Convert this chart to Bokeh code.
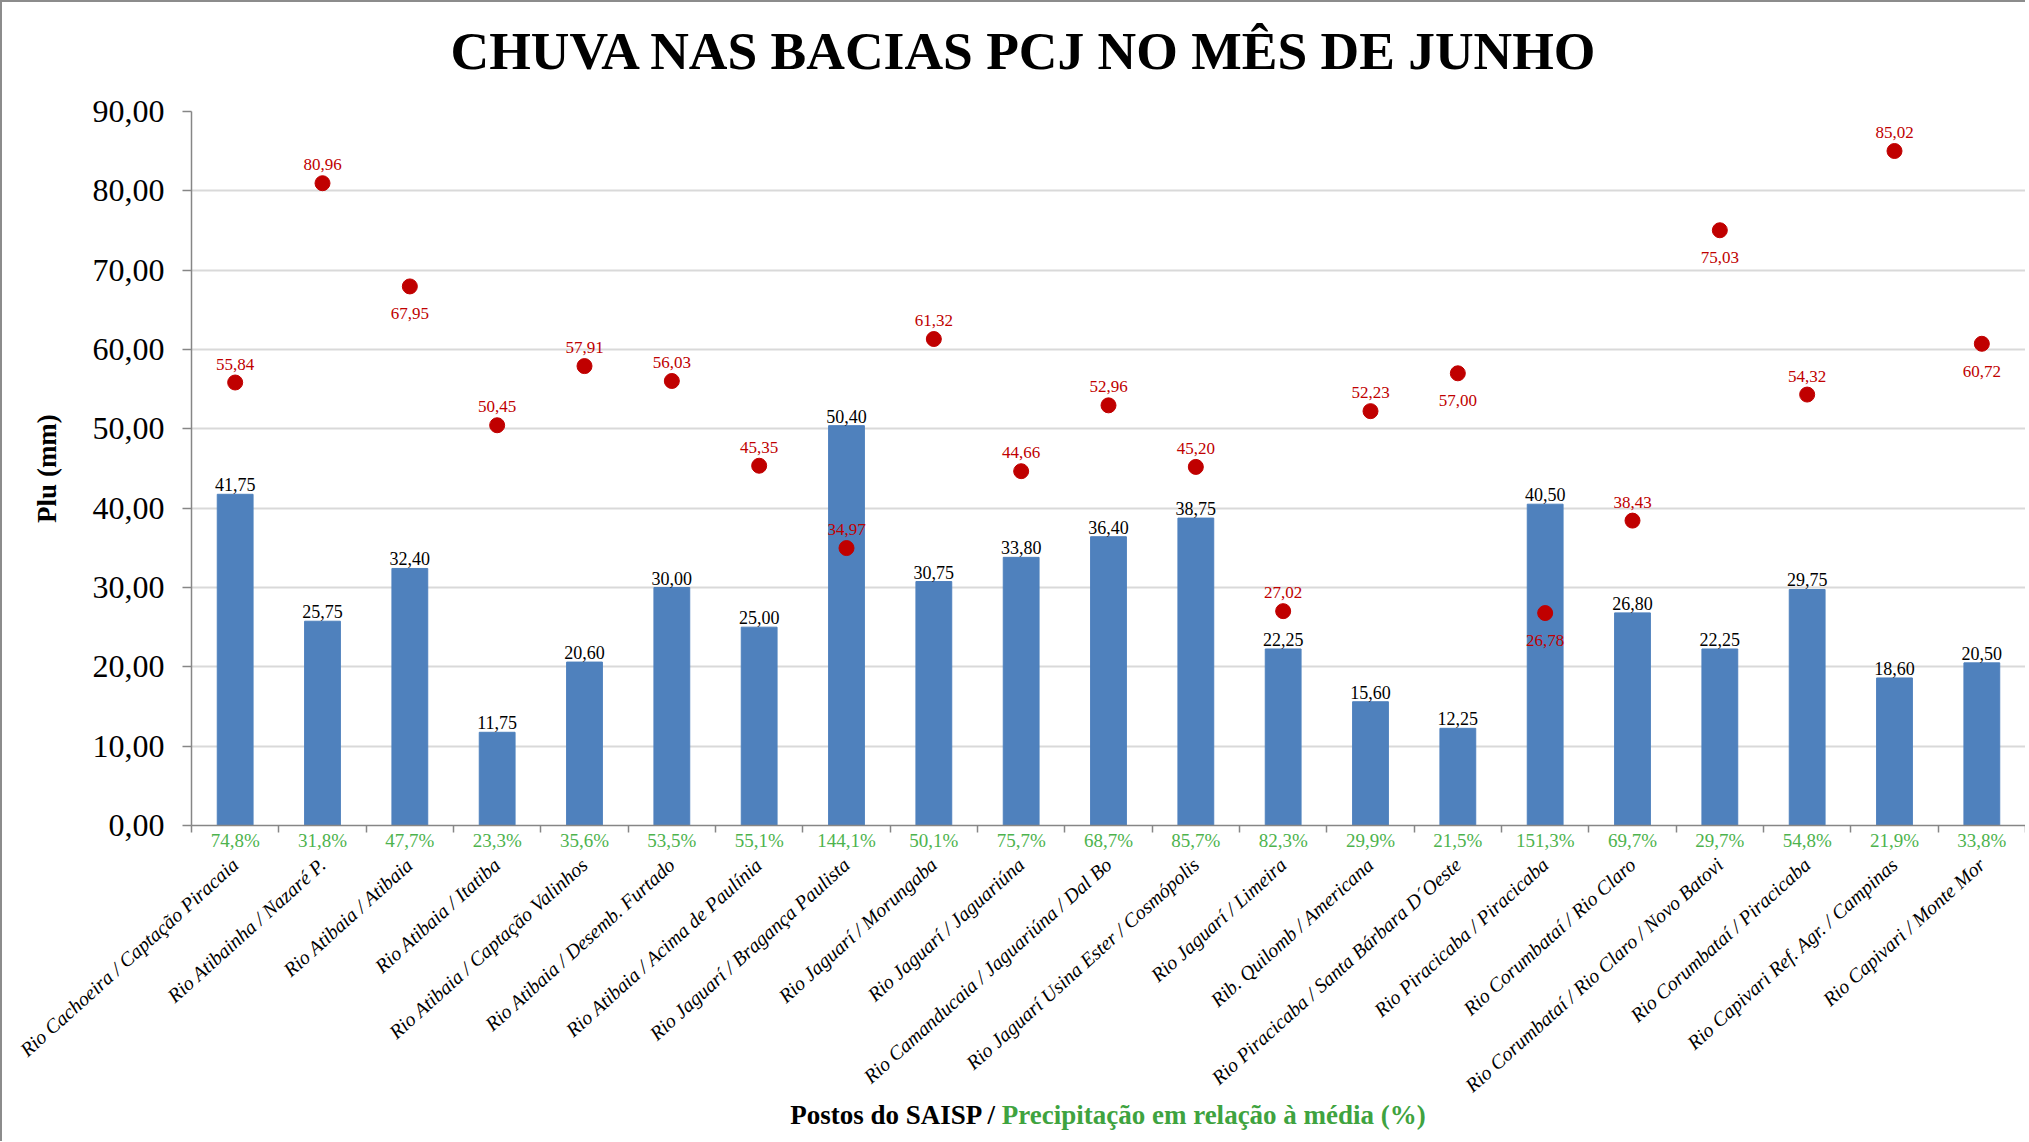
import math
from bokeh.plotting import figure
from bokeh.layouts import column
from bokeh.models import ColumnDataSource, LabelSet, Range1d, FixedTicker, LinearAxis, Div
from bokeh.embed import file_html
from bokeh.resources import INLINE

# ---------------- data ----------------
stations = [
    "Rio Cachoeira / Captação Piracaia",
    "Rio Atibainha / Nazaré P.",
    "Rio Atibaia / Atibaia",
    "Rio Atibaia / Itatiba",
    "Rio Atibaia / Captação Valinhos",
    "Rio Atibaia / Desemb. Furtado",
    "Rio Atibaia / Acima de Paulínia",
    "Rio Jaguarí / Bragança Paulista",
    "Rio Jaguarí / Morungaba",
    "Rio Jaguarí / Jaguariúna",
    "Rio Camanducaia / Jaguariúna / Dal Bo",
    "Rio Jaguarí Usina Ester / Cosmópolis",
    "Rio Jaguarí / Limeira",
    "Rib. Quilomb / Americana",
    "Rio Piracicaba / Santa Bárbara D´Oeste",
    "Rio Piracicaba / Piracicaba",
    "Rio Corumbataí / Rio Claro",
    "Rio Corumbataí / Rio Claro / Novo Batovi",
    "Rio Corumbataí / Piracicaba",
    "Rio Capivari Ref. Agr. / Campinas",
    "Rio Capivari / Monte Mor",
]
chuva_mm = [41.75, 25.75, 32.40, 11.75, 20.60, 30.00, 25.00, 50.40, 30.75, 33.80, 36.40,
            38.75, 22.25, 15.60, 12.25, 40.50, 26.80, 22.25, 29.75, 18.60, 20.50]
media_mm = [55.84, 80.96, 67.95, 50.45, 57.91, 56.03, 45.35, 34.97, 61.32, 44.66, 52.96,
            45.20, 27.02, 52.23, 57.00, 26.78, 38.43, 75.03, 54.32, 85.02, 60.72]
pct_media = [74.8, 31.8, 47.7, 23.3, 35.6, 53.5, 55.1, 144.1, 50.1, 75.7, 68.7,
             85.7, 82.3, 29.9, 21.5, 151.3, 69.7, 29.7, 54.8, 21.9, 33.8]
y_ticks = [0, 10, 20, 30, 40, 50, 60, 70, 80, 90]

title_text = "CHUVA NAS BACIAS PCJ NO MÊS DE JUNHO"
xtitle_black = "Postos do SAISP /"
xtitle_green = "Precipitação em relação à média (%)"

# ---------------- label styling (not data) ----------------
media_label_side = ["above", "above", "below", "above", "above", "above", "above", "above",
                    "above", "above", "above", "above", "above", "above", "below", "below",
                    "above", "below", "above", "above", "below"]


def br(v, d=2):
    return f"{v:.{d}f}".replace(".", ",")


SERIF = "Liberation Serif"
CSS_SERIF = "'Liberation Serif', 'Times New Roman', serif"
GRAY = "#868686"
RED = "#C00000"
BLUE = "#4F81BD"
GREEN = "#4DB34D"
GREEN_T = "#3FA33F"
W = 2023

xs = list(range(len(stations)))

# ---------------- title strip ----------------
title_div = Div(
    text=(f'<span style="font-family:{CSS_SERIF};font-weight:bold;font-size:53.5px;'
          f'color:black">{title_text}</span>'),
    width=W, height=90, margin=(0, 0, 0, 0), styles={
        "font-family": CSS_SERIF, "font-weight": "bold",
        "font-size": "53.5px", "line-height": "normal", "color": "black",
        "text-align": "center", "padding-top": "18px", "padding-left": "19px",
        "box-sizing": "border-box", "white-space": "nowrap",
    })

# ---------------- main chart ----------------
p = figure(width=W, height=1015, x_range=Range1d(-0.5, len(stations) - 0.5),
           y_range=Range1d(0, 90), output_backend="svg", toolbar_location=None,
           min_border_left=189, min_border_right=0,
           min_border_top=19, min_border_bottom=281)
p.outline_line_color = None
p.background_fill_color = "white"
p.border_fill_color = "white"

# grid
p.xgrid.visible = False
p.ygrid.ticker = FixedTicker(ticks=y_ticks)
p.ygrid.grid_line_color = "#D9D9D9"
p.ygrid.grid_line_width = 2

# y axis
yax = p.yaxis[0]
yax.ticker = FixedTicker(ticks=y_ticks)
yax.major_label_overrides = {t: br(t) for t in y_ticks}
yax.major_label_text_font = SERIF
yax.major_label_text_font_size = "32px"
yax.major_label_text_color = "black"
yax.major_label_standoff = 18
yax.axis_line_color = GRAY
yax.axis_line_width = 1.5
yax.major_tick_line_color = GRAY
yax.major_tick_line_width = 1.5
yax.major_tick_out = 9
yax.major_tick_in = 0
yax.minor_tick_line_color = None
yax.axis_label = "Plu (mm)"
yax.axis_label_text_font = SERIF
yax.axis_label_text_font_style = "bold"
yax.axis_label_text_font_size = "27px"
yax.axis_label_text_color = "black"
yax.axis_label_standoff = 28

# x axis 1: axis line, boundary ticks, percentage labels
xax = p.xaxis[0]
xax.ticker = FixedTicker(ticks=xs, minor_ticks=[i - 0.5 for i in range(len(stations) + 1)])
xax.major_label_overrides = {i: br(v, 1) + "%" for i, v in enumerate(pct_media)}
xax.major_label_text_font = SERIF
xax.major_label_text_font_size = "19px"
xax.major_label_text_color = GREEN
xax.major_label_standoff = -3
xax.major_tick_line_color = None
xax.major_tick_out = 0
xax.major_tick_in = 0
xax.minor_tick_line_color = GRAY
xax.minor_tick_line_width = 1.5
xax.minor_tick_out = 7
xax.minor_tick_in = 0
xax.axis_line_color = GRAY
xax.axis_line_width = 1.5

# x axis 2: station names
ax2 = LinearAxis(ticker=FixedTicker(ticks=xs, minor_ticks=[]))
ax2.major_label_overrides = {i: s for i, s in enumerate(stations)}
ax2.major_label_orientation = math.radians(42)
ax2.major_label_text_font = SERIF
ax2.major_label_text_font_style = "italic"
ax2.major_label_text_font_size = "20px"
ax2.major_label_text_color = "black"
ax2.major_label_standoff = 8
ax2.axis_line_color = None
ax2.major_tick_line_color = None
ax2.minor_tick_line_color = None
ax2.major_tick_out = 0
ax2.major_tick_in = 0
p.add_layout(ax2, "below")

# bars and mean points
src = ColumnDataSource(dict(
    x=xs, chuva=chuva_mm, media=media_mm,
    chuva_txt=[br(v) for v in chuva_mm],
))
p.vbar(x="x", top="chuva", width=0.41, source=src, fill_color=BLUE, line_color=BLUE)
p.scatter(x="x", y="media", source=src, size=15, fill_color=RED, line_color=RED)

p.add_layout(LabelSet(x="x", y="chuva", text="chuva_txt", source=src, y_offset=3,
                      text_align="center", text_baseline="alphabetic",
                      text_font=SERIF, text_font_size="18px", text_color="black"))

up_idx = [i for i, s in enumerate(media_label_side) if s == "above"]
dn_idx = [i for i, s in enumerate(media_label_side) if s == "below"]
src_up = ColumnDataSource(dict(x=[xs[i] for i in up_idx], y=[media_mm[i] for i in up_idx],
                               t=[br(media_mm[i]) for i in up_idx]))
src_dn = ColumnDataSource(dict(x=[xs[i] for i in dn_idx], y=[media_mm[i] for i in dn_idx],
                               t=[br(media_mm[i]) for i in dn_idx]))
p.add_layout(LabelSet(x="x", y="y", text="t", source=src_up, y_offset=13,
                      text_align="center", text_baseline="alphabetic",
                      text_font=SERIF, text_font_size="17px", text_color=RED))
p.add_layout(LabelSet(x="x", y="y", text="t", source=src_dn, y_offset=-33,
                      text_align="center", text_baseline="alphabetic",
                      text_font=SERIF, text_font_size="17px", text_color=RED))

# ---------------- x axis title strip (two colours) ----------------
xtitle_div = Div(
    text=(f'<span style="font-family:{CSS_SERIF};font-weight:bold;font-size:27px;'
          f'color:black">{xtitle_black} <span style="color:{GREEN_T}">{xtitle_green}'
          f'</span></span>'),
    width=W, height=34, margin=(0, 0, 0, 0), styles={
        "font-family": CSS_SERIF, "font-weight": "bold",
        "font-size": "27px", "line-height": "16px", "color": "black",
        "text-align": "center", "padding-left": "189px", "padding-top": "0px",
        "box-sizing": "border-box", "white-space": "nowrap",
    })

layout = column(title_div, p, xtitle_div, spacing=0)
layout.styles = {"border-top": "2px solid #8C8C8C", "border-left": "2px solid #8C8C8C"}

open("out.html", "w").write(file_html(layout, INLINE))
